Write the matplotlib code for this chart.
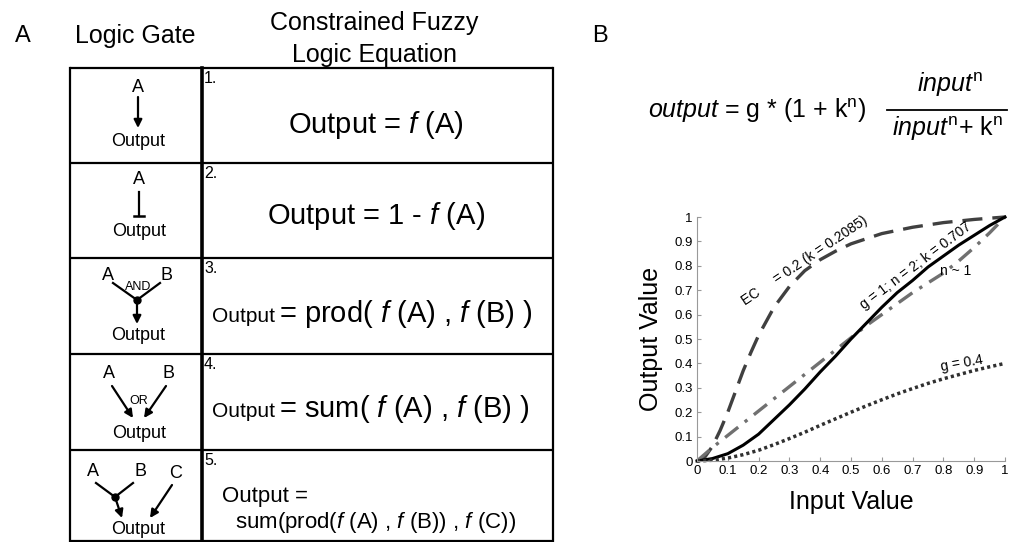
import matplotlib
matplotlib.use("Agg")
import matplotlib.pyplot as plt

plt.rcParams['font.family'] = 'Liberation Sans'
plt.rcParams['mathtext.fontset'] = 'custom'
plt.rcParams['mathtext.rm'] = 'Liberation Sans'
plt.rcParams['mathtext.it'] = 'Liberation Sans:italic'

# ---- panel A: table text ----
headers = ["Logic Gate", "Constrained Fuzzy\nLogic Equation"]
row_numbers = ["1.", "2.", "3.", "4.", "5."]
eq_simple = [r"Output = $f$ (A)", r"Output = 1 - $f$ (A)"]
eq_two_part = [r"= prod( $f$ (A) , $f$ (B) )", r"= sum( $f$ (A) , $f$ (B) )"]
eq_last = ["Output =", r"sum(prod($f$ (A) , $f$ (B)) , $f$ (C))"]

# ---- panel B: curves ----
x_in = [0, 0.05, 0.1, 0.15, 0.2, 0.25, 0.3, 0.35, 0.4, 0.45, 0.5,
        0.55, 0.6, 0.65, 0.7, 0.75, 0.8, 0.85, 0.9, 0.95, 1.0]
y_g1 = [0, 0.01, 0.03, 0.065, 0.11, 0.17, 0.23, 0.295, 0.365, 0.43, 0.50,
        0.565, 0.63, 0.69, 0.74, 0.795, 0.84, 0.885, 0.925, 0.965, 1.0]
y_g04 = [0, 0.003, 0.012, 0.026, 0.044, 0.067, 0.092, 0.118, 0.146, 0.173, 0.20,
         0.226, 0.251, 0.275, 0.297, 0.318, 0.337, 0.354, 0.371, 0.386, 0.40]
y_n1 = [0, 0.055, 0.105, 0.155, 0.205, 0.255, 0.305, 0.355, 0.405, 0.455, 0.505,
        0.555, 0.60, 0.645, 0.69, 0.73, 0.77, 0.82, 0.875, 0.935, 1.0]
x_ec = [0, 0.025, 0.05, 0.075, 0.1, 0.125, 0.15, 0.175, 0.2, 0.25, 0.3,
        0.35, 0.4, 0.45, 0.5, 0.6, 0.7, 0.8, 0.9, 1.0]
y_ec = [0, 0.015, 0.06, 0.125, 0.20, 0.285, 0.37, 0.445, 0.515, 0.63, 0.715,
        0.78, 0.825, 0.86, 0.89, 0.932, 0.958, 0.977, 0.99, 1.0]
ticks = [0, 0.1, 0.2, 0.3, 0.4, 0.5, 0.6, 0.7, 0.8, 0.9, 1]
tick_labels = ["0", "0.1", "0.2", "0.3", "0.4", "0.5", "0.6", "0.7", "0.8", "0.9", "1"]

fig = plt.figure(figsize=(10.11, 5.42), dpi=100)

# overlay in pixel units for the table / diagrams
ax0 = fig.add_axes([0, 0, 1, 1])
ax0.set_xlim(0, 1011)
ax0.set_ylim(542, 0)
ax0.axis('off')

t_left, t_mid, t_right = 70, 202, 553
rows = [68, 163, 258, 354, 450, 541]

for y in rows:
    ax0.plot([t_left, t_right], [y, y], color='k', lw=1.6, solid_capstyle='butt')
ax0.plot([t_left, t_left], [rows[0], rows[-1]], color='k', lw=1.6)
ax0.plot([t_mid, t_mid], [rows[0], rows[-1]], color='k', lw=2.6)
ax0.plot([t_right, t_right], [rows[0], rows[-1]], color='k', lw=1.6)

ax0.text(23, 36, "A", fontsize=17, ha='center', va='center')
ax0.text(600, 36, "B", fontsize=17, ha='center', va='center')
ax0.text(135, 43, headers[0], fontsize=18, ha='center', va='baseline')
ax0.text(374, 30, headers[1].split("\n")[0], fontsize=18, ha='center', va='baseline')
ax0.text(374, 62, headers[1].split("\n")[1], fontsize=18, ha='center', va='baseline')

for i, lab in enumerate(row_numbers):
    ax0.text(204, rows[i] + 3, lab, fontsize=11.5, ha='left', va='top')

# equations
ax0.text(376, 125, eq_simple[0], fontsize=21, ha='center', va='center')
ax0.text(376, 216, eq_simple[1], fontsize=21, ha='center', va='center')
for yb, big in zip([322, 417], eq_two_part):
    ax0.text(212, yb, "Output", fontsize=15, ha='left', va='baseline')
    ax0.text(279, yb, big, fontsize=21, ha='left', va='baseline')
ax0.text(222, 502, eq_last[0], fontsize=16, ha='left', va='baseline')
ax0.text(235, 528, eq_last[1], fontsize=16, ha='left', va='baseline')


def arrow(p0, p1):
    ax0.annotate('', xy=p1, xytext=p0,
                 arrowprops=dict(arrowstyle='-|>', color='k', lw=1.6,
                                 mutation_scale=12, shrinkA=0, shrinkB=0))


gfs = 13
# gate 1
ax0.text(138, 88, "A", fontsize=gfs, ha='center', va='center')
arrow((138, 97), (138, 128))
ax0.text(138, 141, "Output", fontsize=gfs, ha='center', va='center')
# gate 2 (inhibition)
ax0.text(139, 180, "A", fontsize=gfs, ha='center', va='center')
ax0.plot([139, 139], [192, 216], color='k', lw=1.6)
ax0.plot([134, 144], [216, 216], color='k', lw=1.8)
ax0.text(139, 231, "Output", fontsize=gfs, ha='center', va='center')
# gate 3 (AND)
ax0.text(108, 275, "A", fontsize=gfs, ha='center', va='center')
ax0.text(167, 275, "B", fontsize=gfs, ha='center', va='center')
ax0.text(138, 287, "AND", fontsize=9, ha='center', va='center')
ax0.plot([113, 137, 160], [283, 300, 283], color='k', lw=1.6)
ax0.plot([137], [300], 'o', color='k', ms=5)
arrow((137, 300), (137, 324))
ax0.text(138, 336, "Output", fontsize=gfs, ha='center', va='center')
# gate 4 (OR)
ax0.text(109, 373, "A", fontsize=gfs, ha='center', va='center')
ax0.text(168, 373, "B", fontsize=gfs, ha='center', va='center')
ax0.text(139, 401, "OR", fontsize=9, ha='center', va='center')
arrow((112, 386), (133, 418))
arrow((166, 386), (144, 418))
ax0.text(139, 433, "Output", fontsize=gfs, ha='center', va='center')
# gate 5
ax0.text(93, 471, "A", fontsize=gfs, ha='center', va='center')
ax0.text(140, 471, "B", fontsize=gfs, ha='center', va='center')
ax0.text(176, 473, "C", fontsize=gfs, ha='center', va='center')
ax0.plot([96, 115, 133], [483, 497, 483], color='k', lw=1.6)
ax0.plot([115], [497], 'o', color='k', ms=5)
arrow((115, 497), (122, 518))
arrow((172, 485), (150, 518))
ax0.text(138, 529, "Output", fontsize=gfs, ha='center', va='center')

# formula of panel B
ax0.text(648, 118, r"$output$ = g * (1 + k$^{\mathrm{n}}$)", fontsize=18,
         ha='left', va='baseline')
ax0.text(950, 92, r"$input^{\mathrm{n}}$", fontsize=18, ha='center', va='baseline')
ax0.text(948, 136, r"$input^{\mathrm{n}}$+ k$^{\mathrm{n}}$", fontsize=18,
         ha='center', va='baseline')
ax0.plot([887, 1007], [110, 110], color='k', lw=1.3)

# ---- panel B plot ----
ax = fig.add_axes([697 / 1011, 1 - 461 / 542, 308 / 1011, 244 / 542])
ax.plot(x_ec, y_ec, color='#404040', lw=2.4, dashes=(6, 3), clip_on=False)
ax.plot(x_in, y_n1, color='#707070', lw=2.4, dashes=(5, 2.5, 1, 2.5), clip_on=False)
ax.plot(x_in, y_g1, color='k', lw=2.2, clip_on=False)
ax.plot(x_in, y_g04, color='#303030', lw=2.5, dashes=(0.9, 0.9), clip_on=False)

ax.set_xlim(0, 1)
ax.set_ylim(0, 1)
ax.set_xticks(ticks)
ax.set_xticklabels(tick_labels)
ax.set_yticks(ticks)
ax.set_yticklabels(tick_labels)
ax.tick_params(direction='in', length=3, color='#999999', labelsize=9.5, pad=3)
ax.spines['top'].set_visible(False)
ax.spines['right'].set_visible(False)
ax.spines['left'].set_color('#999999')
ax.spines['bottom'].set_color('#999999')
ax.patch.set_alpha(0)

ax.set_ylabel("Output Value", fontsize=18)
ax.yaxis.set_label_coords(-0.11, 0.5)
ax.set_xlabel("Input Value", fontsize=18)
ax.xaxis.set_label_coords(0.5, -0.12)

ax.text(0.35, 0.82, "EC     = 0.2 (k = 0.2085)", fontsize=10, rotation=34,
        ha='center', va='center')
ax.text(0.71, 0.80, "g = 1; n = 2; k = 0.707", fontsize=10, rotation=37,
        ha='center', va='center')
ax.text(0.84, 0.78, "n ~ 1", fontsize=10, ha='center', va='center')
ax.text(0.86, 0.40, "g = 0.4", fontsize=10, rotation=10, ha='center', va='center')

fig.savefig("out.png", dpi=100)
